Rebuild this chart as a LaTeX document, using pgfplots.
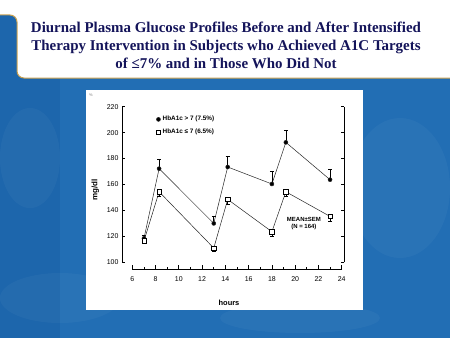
\documentclass[border=0pt]{standalone}
\usepackage{pgfplots}
\pgfplotsset{compat=1.18}
\usepackage{fontspec}
\setmainfont{Liberation Sans}
\newfontfamily\titlefont{Liberation Serif}
\definecolor{bgblue}{RGB}{34,110,180}
\definecolor{bgdark}{RGB}{26,96,166}
\definecolor{gold}{RGB}{200,160,80}
\definecolor{navy}{RGB}{20,20,90}
\begin{document}
\begin{tikzpicture}[x=1bp,y=1bp]
\useasboundingbox (0,0) rectangle (450,338);
% background
\fill[bgblue] (0,0) rectangle (450,338);
\begin{scope}[opacity=0.5]
\fill[bgdark] (0,0) rectangle (60,338);
\end{scope}
\begin{scope}[opacity=0.035]
\fill[white] (60,40) ellipse (60 and 25);
\fill[white] (400,150) ellipse (50 and 70);
\fill[white] (300,20) ellipse (80 and 15);
\fill[white] (30,180) ellipse (30 and 50);
\fill[white] (420,300) ellipse (40 and 30);
\end{scope}
% title area
\fill[white, rounded corners=7bp] (-10,323) -- (17,323) -- (17,260) -- (460,260) -- (460,348) -- (-10,348) -- cycle;
\fill[white] (0,323) rectangle (450,338);
\draw[gold, line width=1bp, rounded corners=7bp] (-10,323) -- (17,323) -- (17,260) -- (460,260);
\node[font=\titlefont\bfseries\fontsize{15}{18}\selectfont, text=navy, align=center] at (226,293)
  {Diurnal Plasma Glucose Profiles Before and After Intensified\\
   Therapy Intervention in Subjects who Achieved A1C Targets\\
   of ≤7\% and in Those Who Did Not};
% plot panel
\fill[white] (86,28) rectangle (363,248);
\node[font=\fontsize{4}{4}\selectfont, text=gray] at (91,243) {\%};
% main axis
\begin{axis}[
  at={(122bp,75.7bp)}, anchor=south west, scale only axis,
  width=222bp, height=155.6bp,
  xmin=5.11, xmax=24.2, ymin=100, ymax=220,
  axis x line=none, axis y line=box,
  ytick={100,120,...,220}, yticklabel pos=left,
  tick align=inside, major tick length=3bp,
  axis line style={black, line width=0.8bp},
  tick style={black, line width=0.8bp},
  ticklabel style={font=\fontsize{7}{8}\selectfont},
  /pgf/number format/assume math mode=true,
  clip=false,
  legend style={draw=none, fill=none, at={(0.14,0.965)}, anchor=north west,
    font=\bfseries\fontsize{6.4}{7}\selectfont, row sep=2.5bp,
    legend cell align=left},
  legend image code/.code={\draw[#1] plot coordinates {(0.15cm,0cm)};},
]
\addplot[black!85, line width=0.5bp, mark=*, mark size=2bp, mark options={fill=black},
  error bars/.cd, y dir=plus, y explicit, error mark=-, error mark options={rotate=90, black, mark size=2bp, line width=0.6bp},
  error bar style={black, line width=0.6bp}]
  coordinates {
  (7,118.5) +- (0,2)
  (8.3,172.2) +- (0,7.5)
  (13,130) +- (0,5.7)
  (14.2,173.5) +- (0,8)
  (18,160.4) +- (0,9.5)
  (19.2,192.5) +- (0,9)
  (23,163.7) +- (0,7.7)
  };
\addlegendentry{HbA1c > 7 (7.5\%)}
\addplot[black!85, line width=0.5bp, mark=square*, mark size=2.2bp, mark options={fill=white, draw=black},
  error bars/.cd, y dir=minus, y explicit, error mark=-, error mark options={rotate=90, black, mark size=2bp, line width=0.6bp},
  error bar style={black, line width=0.6bp}]
  coordinates {
  (7,116.5) +- (0,1.5)
  (8.3,154.4) +- (0,3.7)
  (13,111) +- (0,2.4)
  (14.2,148.5) +- (0,3.7)
  (18,123.6) +- (0,3.8)
  (19.2,154.4) +- (0,3.7)
  (23,135.4) +- (0,3.6)
  };
\addlegendentry{HbA1c ≤ 7 (6.5\%)}
\node[font=\bfseries\fontsize{6}{7}\selectfont, align=center] at (axis cs:20.75,129.8) {MEAN±SEM\\(N = 164)};
\node[font=\bfseries\fontsize{8}{9}\selectfont, rotate=90] at (rel axis cs:-0.12,0.465) {mg/dl};
\end{axis}
% x axis
\begin{axis}[
  at={(132.3bp,69bp)}, anchor=south west, scale only axis,
  width=209.4bp, height=10bp,
  xmin=6, xmax=24, ymin=0, ymax=1,
  axis x line=bottom, axis y line=none,
  xtick={6,8,...,24}, minor x tick num=1,
  tick align=inside, major tick length=4bp, minor tick length=2.5bp,
  axis line style={black, line width=0.8bp, -},
  tick style={black, line width=0.8bp},
  ticklabel style={font=\fontsize{7}{8}\selectfont},
  xticklabel style={yshift=-4bp},
  /pgf/number format/assume math mode=true,
]
\end{axis}
\node[font=\bfseries\fontsize{7.5}{8}\selectfont] at (229,35) {hours};
\end{tikzpicture}
\end{document}
